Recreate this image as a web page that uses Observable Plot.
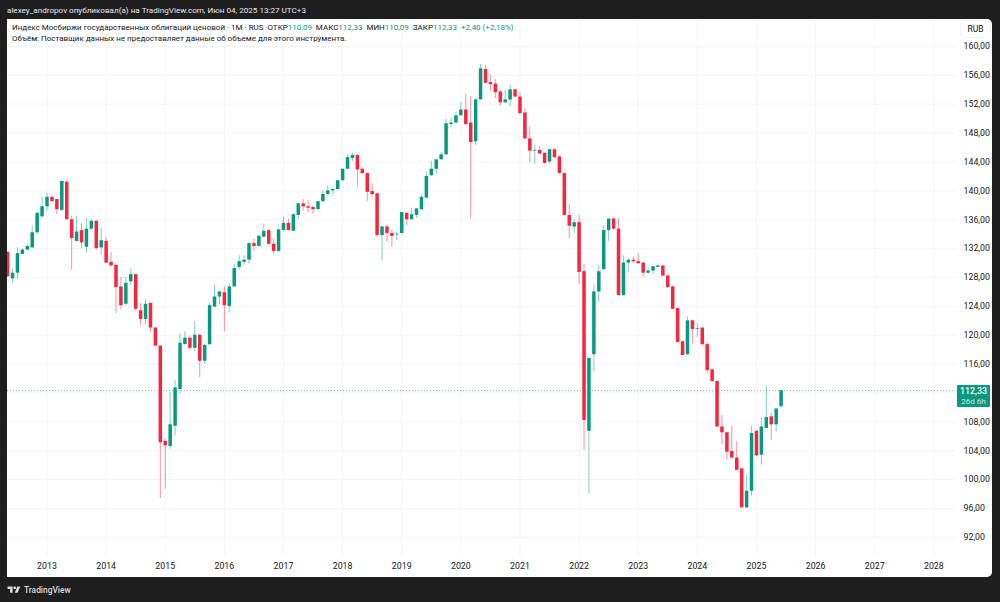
<!DOCTYPE html>
<html lang="ru"><head><meta charset="utf-8">
<script src="https://cdn.jsdelivr.net/npm/d3@7"></script>
<script src="https://cdn.jsdelivr.net/npm/@observablehq/plot@0.6"></script>
<style>
html,body{margin:0;padding:0;width:1000px;height:602px;overflow:hidden;background:#1e1e1e;font-family:Roboto,sans-serif}
#panel{position:absolute;left:7px;top:19px;width:985px;height:558px;background:#fff;border-radius:0 5px 5px 0}
#chart{position:absolute;left:0;top:0}
#pub{position:absolute;left:7px;top:3px;font-size:8.1px;color:#e8e8e8;line-height:14px;white-space:pre}
.lg{position:absolute;left:12px;font-size:8px;color:#131722;line-height:12px;white-space:pre}
.lg b{font-weight:400;color:#089981}
#rub{position:absolute;left:960px;top:20px;width:31px;height:18px;border:1px solid #f0f3fa;border-radius:4px;box-sizing:border-box;font-size:8.6px;color:#131722;text-align:center;line-height:16px;background:#fff}
#tag{position:absolute;left:957px;top:385px;width:33px;height:22px;background:#089981;color:#fff;font-size:8.8px;font-weight:500;line-height:10px;text-align:center;padding-top:1px;box-sizing:border-box;border-radius:1px}
#tag span{opacity:.8;font-size:8px;font-weight:400}
#logo{position:absolute;left:7px;top:584px;display:flex;align-items:center;gap:3px;color:#dcdcdc;font-size:8.4px;font-weight:500;line-height:12px}
</style></head><body>
<div id="panel"></div>
<div id="chart"></div>
<div id="pub">alexey_andropov опубликовал(а) на TradingView.com, Июн 04, 2025 13:27 UTC+3</div>
<div class="lg" style="top:22px">Индекс Мосбиржи государственных облигаций ценовой · 1M · RUS  ОТКР<b>110,09</b>  МАКС<b>112,33</b>  МИН<b>110,09</b>  ЗАКР<b>112,33</b>  <b>+2,40 (+2,18%)</b></div>
<div class="lg" style="top:33px">Объём: Поставщик данных не предоставляет данные об объеме для этого инструмента.</div>
<div id="rub">RUB</div>
<div id="tag">112,33<br><span>26d 6h</span></div>
<div id="logo"><svg width="14" height="10" viewBox="0 0 36 28"><path fill="#dcdcdc" d="M14 22H7V11H0V4h14v18zM28 22h-8l7.5-18h8L28 22z"/><circle fill="#dcdcdc" cx="20" cy="8" r="4"/></svg><span>TradingView</span></div>
<script>
// Monthly candles, May 2012 – Jun 2025 (month index 0 = Jan 2013)
const firstMonth = -8;
const opens = [
 131.5,127.8,128.6,131.2,131.8,132.1,134.2,136.4,
 137.8,139.1,138.8,137.3,141.2,136,133,134.5,132.2,134.7,135.8,132.1,
 133,130.1,129.7,126.7,124.3,127.4,128.4,123.4,122.2,124.4,121,118.5,
 105.3,104.6,107.4,112.5,118.7,119.6,118.2,120,116.4,118.7,123.9,125.3,
 125.9,124,126.7,129.4,130.1,130.4,132.7,132.3,133.6,134.5,132.6,131.6,
 134.5,135.5,134.4,136.6,138.2,137.8,137.7,137.4,138.5,139.5,140,140.2,
 141.4,143,144.5,144.9,143,142.4,139.9,139.6,133.8,135,134.1,133.9,
 134.1,136.9,136,136.6,137.4,139,142.1,143,144.3,145,149.2,149.4,
 150.4,151.2,149.4,146.8,152.6,156.8,155,154.8,153.7,152.2,152.6,154,
 153,150.8,147.2,145.5,145.6,145.2,144,145.7,144.7,142.4,136.6,135,
 135.6,128.8,106.7,117.3,126,129.1,134.5,136.1,134.7,125.5,130,130.4,
 130.2,130,128.6,128.9,129.4,129.6,128.2,126.7,123.7,119.1,117.3,122,
 120.8,121,118.7,115.2,113.6,107.3,106.5,103.9,103,101.5,96.1,98.4,
 106.7,103.4,107.1,108.7,107.6,110.09];
const highs = [
 131.5,129.2,132.1,132,132.6,135.1,136.9,139.2,
 139.7,139.4,138.8,141.3,141.5,136.5,136.5,135.5,136.2,136,135.8,134.8,
 133.5,131.5,129.7,128,128,129.2,128.4,124.4,124.9,124.5,121.1,118.5,
 105.6,112.1,113.7,120.2,120.5,119.9,121.9,120.2,118.8,124.5,126.9,126.1,
 126.7,127.1,129.8,131,131,132.8,133.3,133.8,135.4,134.6,133.3,134.8,
 136.4,136.1,136.8,138.3,138.8,138.6,137.9,138.5,140,140.7,140.4,141.5,
 143,145,145.2,144.9,143.2,142.5,141,139.6,135.1,135.3,134.6,134.3,
 137,137,137.6,137.6,139.4,142.6,144.1,144.4,145.3,149.9,150.1,150.9,
 152.2,153.4,153.1,152.8,157.5,157.4,156.1,155.4,154,154,154.6,154.1,
 153.6,151.4,148.9,146.3,146.2,145.3,145.7,145.8,144.8,142.5,138.1,136,
 136.6,129.8,116.8,127,129.6,135.2,136.1,136.3,136.1,131,130.6,130.8,
 131.3,130.1,129.3,129.5,129.9,129.6,128.4,126.8,123.8,119.2,122.5,122.1,
 121.6,121.1,118.9,115.4,113.7,108.9,106.6,107.4,105.3,101.6,100.6,107.4,
 106.8,108.6,113,109.2,109.8,112.33];
const lows = [
 128,127.2,127.7,131.2,131.7,132,134,136.3,
 137.2,138.4,136.7,137.1,136,129,132.9,132,131.4,134.5,131.8,131.1,
 129.9,129.4,123,123.5,124.1,127,123.3,121.3,121.5,120.4,118.5,97.4,
 98.7,104.2,106.1,111.9,118.7,117.9,117.7,114.1,116,118.6,123.8,124.2,
 120.5,123.1,126.7,129,129.7,129.9,131.6,132.2,133.5,132.5,131.2,131.5,
 134.5,134.5,134.4,136,137.2,137,136.8,137.4,138.4,139.3,139.3,140.2,
 141.3,143,144.1,140.5,142.3,138.5,139.2,133.6,130.3,132.9,132.2,133.1,
 134,135.2,136,136.2,137.3,138.9,142,142.3,144.3,144.9,148.8,149.3,
 150.4,149,136.1,146.3,152.6,154.8,153.8,152.8,151.7,152.1,151.7,152.9,
 150.6,147.1,143.9,143.7,145,143.7,143.7,144.5,142.3,136.5,133.4,134.1,
 127,104.1,98,114.9,124.6,129,133,134.6,125.4,125.4,128.7,129.9,
 129.9,128.1,128.5,128.4,129.4,128.1,126.6,123.5,119,117.2,117.2,118.8,
 119.7,118.6,114.7,113.5,107.2,104.8,102.7,102.9,101.2,96,96,97.7,
 103.2,102,107.1,105.4,106.6,110.09];
const closes = [
 128.1,128.6,131.3,131.8,132.3,134.2,136.9,137.8,
 139.1,138.5,137.4,141.3,136,133.4,134.3,132.8,134.7,135.8,132,133.1,
 130,129.6,126.6,124.1,127.2,128.4,123.6,122.2,124.3,121,118.5,105.1,
 104.7,107.6,112.7,118.9,119.6,118.2,120,116.4,118.6,124.1,125.3,126,
 124.1,126.7,129.25,130.2,130.4,132.7,132.3,133.7,134.4,132.6,131.6,134.6,
 135.5,134.5,136.7,138.2,137.8,137.6,137.4,138.5,139.5,140,140.2,141.4,
 143,144.6,144.9,142.9,142.4,139.8,139.5,133.8,135,134.1,133.7,134,
 137,136,136.7,137.5,139.1,142,143,144.3,145,149.3,149.4,150.4,
 151.2,149.2,146.7,152.6,156.9,154.9,154.7,153.6,152.2,152.6,154,153,
 150.7,147.2,145.5,145.6,145.1,143.8,145.7,144.6,142.4,136.6,135.1,135.6,
 128.7,108.2,116.8,126,128.8,134.5,136.1,134.7,125.5,130,130.4,130.2,
 129.9,128.6,128.9,129.5,129.6,128.2,126.6,123.6,119,117.2,122,120.8,
 120.9,118.7,115.1,113.6,107.3,106.5,103.8,103,101.3,96.1,98.4,106.4,
 103.3,107.3,108.6,107.6,109.8,112.33];
const yearTicks = [2013,2014,2015,2016,2017,2018,2019,2020,2021,2022,2023,2024,2025,2026,2027,2028];
const priceTicks = [92,96,100,104,108,112,116,120,124,128,132,136,140,144,148,152,156,160];
const priceLabels = priceTicks.filter(p=>p!==112); // the 112 label sits under the last-price tag
const lastClose = 112.33;
const UP = "#089981", DOWN = "#f7253e", GRID = "#f3f4f8", INK = "#131722";

const candles = opens.map((o,i)=>({m:firstMonth+i,o,h:highs[i],l:lows[i],c:closes[i],col:closes[i]>=o?UP:DOWN}));
const yearMonths = yearTicks.map(y=>(y-2013)*12);

const chart = Plot.plot({
  width:1000,height:602,
  marginLeft:7,marginRight:45,marginTop:20,marginBottom:45,
  style:{background:"transparent",fontFamily:'Roboto,sans-serif',fontSize:"8.6px",color:INK},
  x:{type:"linear",domain:[-8.02,184.4],label:null},
  y:{type:"linear",domain:[89.22,163.6],label:null},
  marks:[
    Plot.gridX(yearMonths,{stroke:GRID,strokeOpacity:1,strokeWidth:1}),
    Plot.gridY(priceTicks,{stroke:GRID,strokeOpacity:1,strokeWidth:1}),
    Plot.ruleY([lastClose],{stroke:UP,strokeWidth:1,strokeDasharray:"1,2",strokeOpacity:.6}),
    Plot.ruleX(candles,{x:"m",y1:"l",y2:"h",stroke:"col",strokeWidth:1,strokeOpacity:.5,clip:true}),
    Plot.ruleX(candles,{x:"m",y1:"o",y2:"c",stroke:"col",strokeWidth:3.5,clip:true}),
    Plot.axisX(yearMonths,{anchor:"bottom",tickSize:0,tickPadding:5,fill:INK,fontSize:8.8,tickFormat:m=>String(2013+m/12),label:null}),
    Plot.axisY(priceLabels,{anchor:"right",tickSize:0,tickPadding:8,fill:INK,fontSize:8.8,tickFormat:p=>p+",00",label:null})
  ]
});
document.getElementById("chart").append(chart);
</script>
</body></html>
